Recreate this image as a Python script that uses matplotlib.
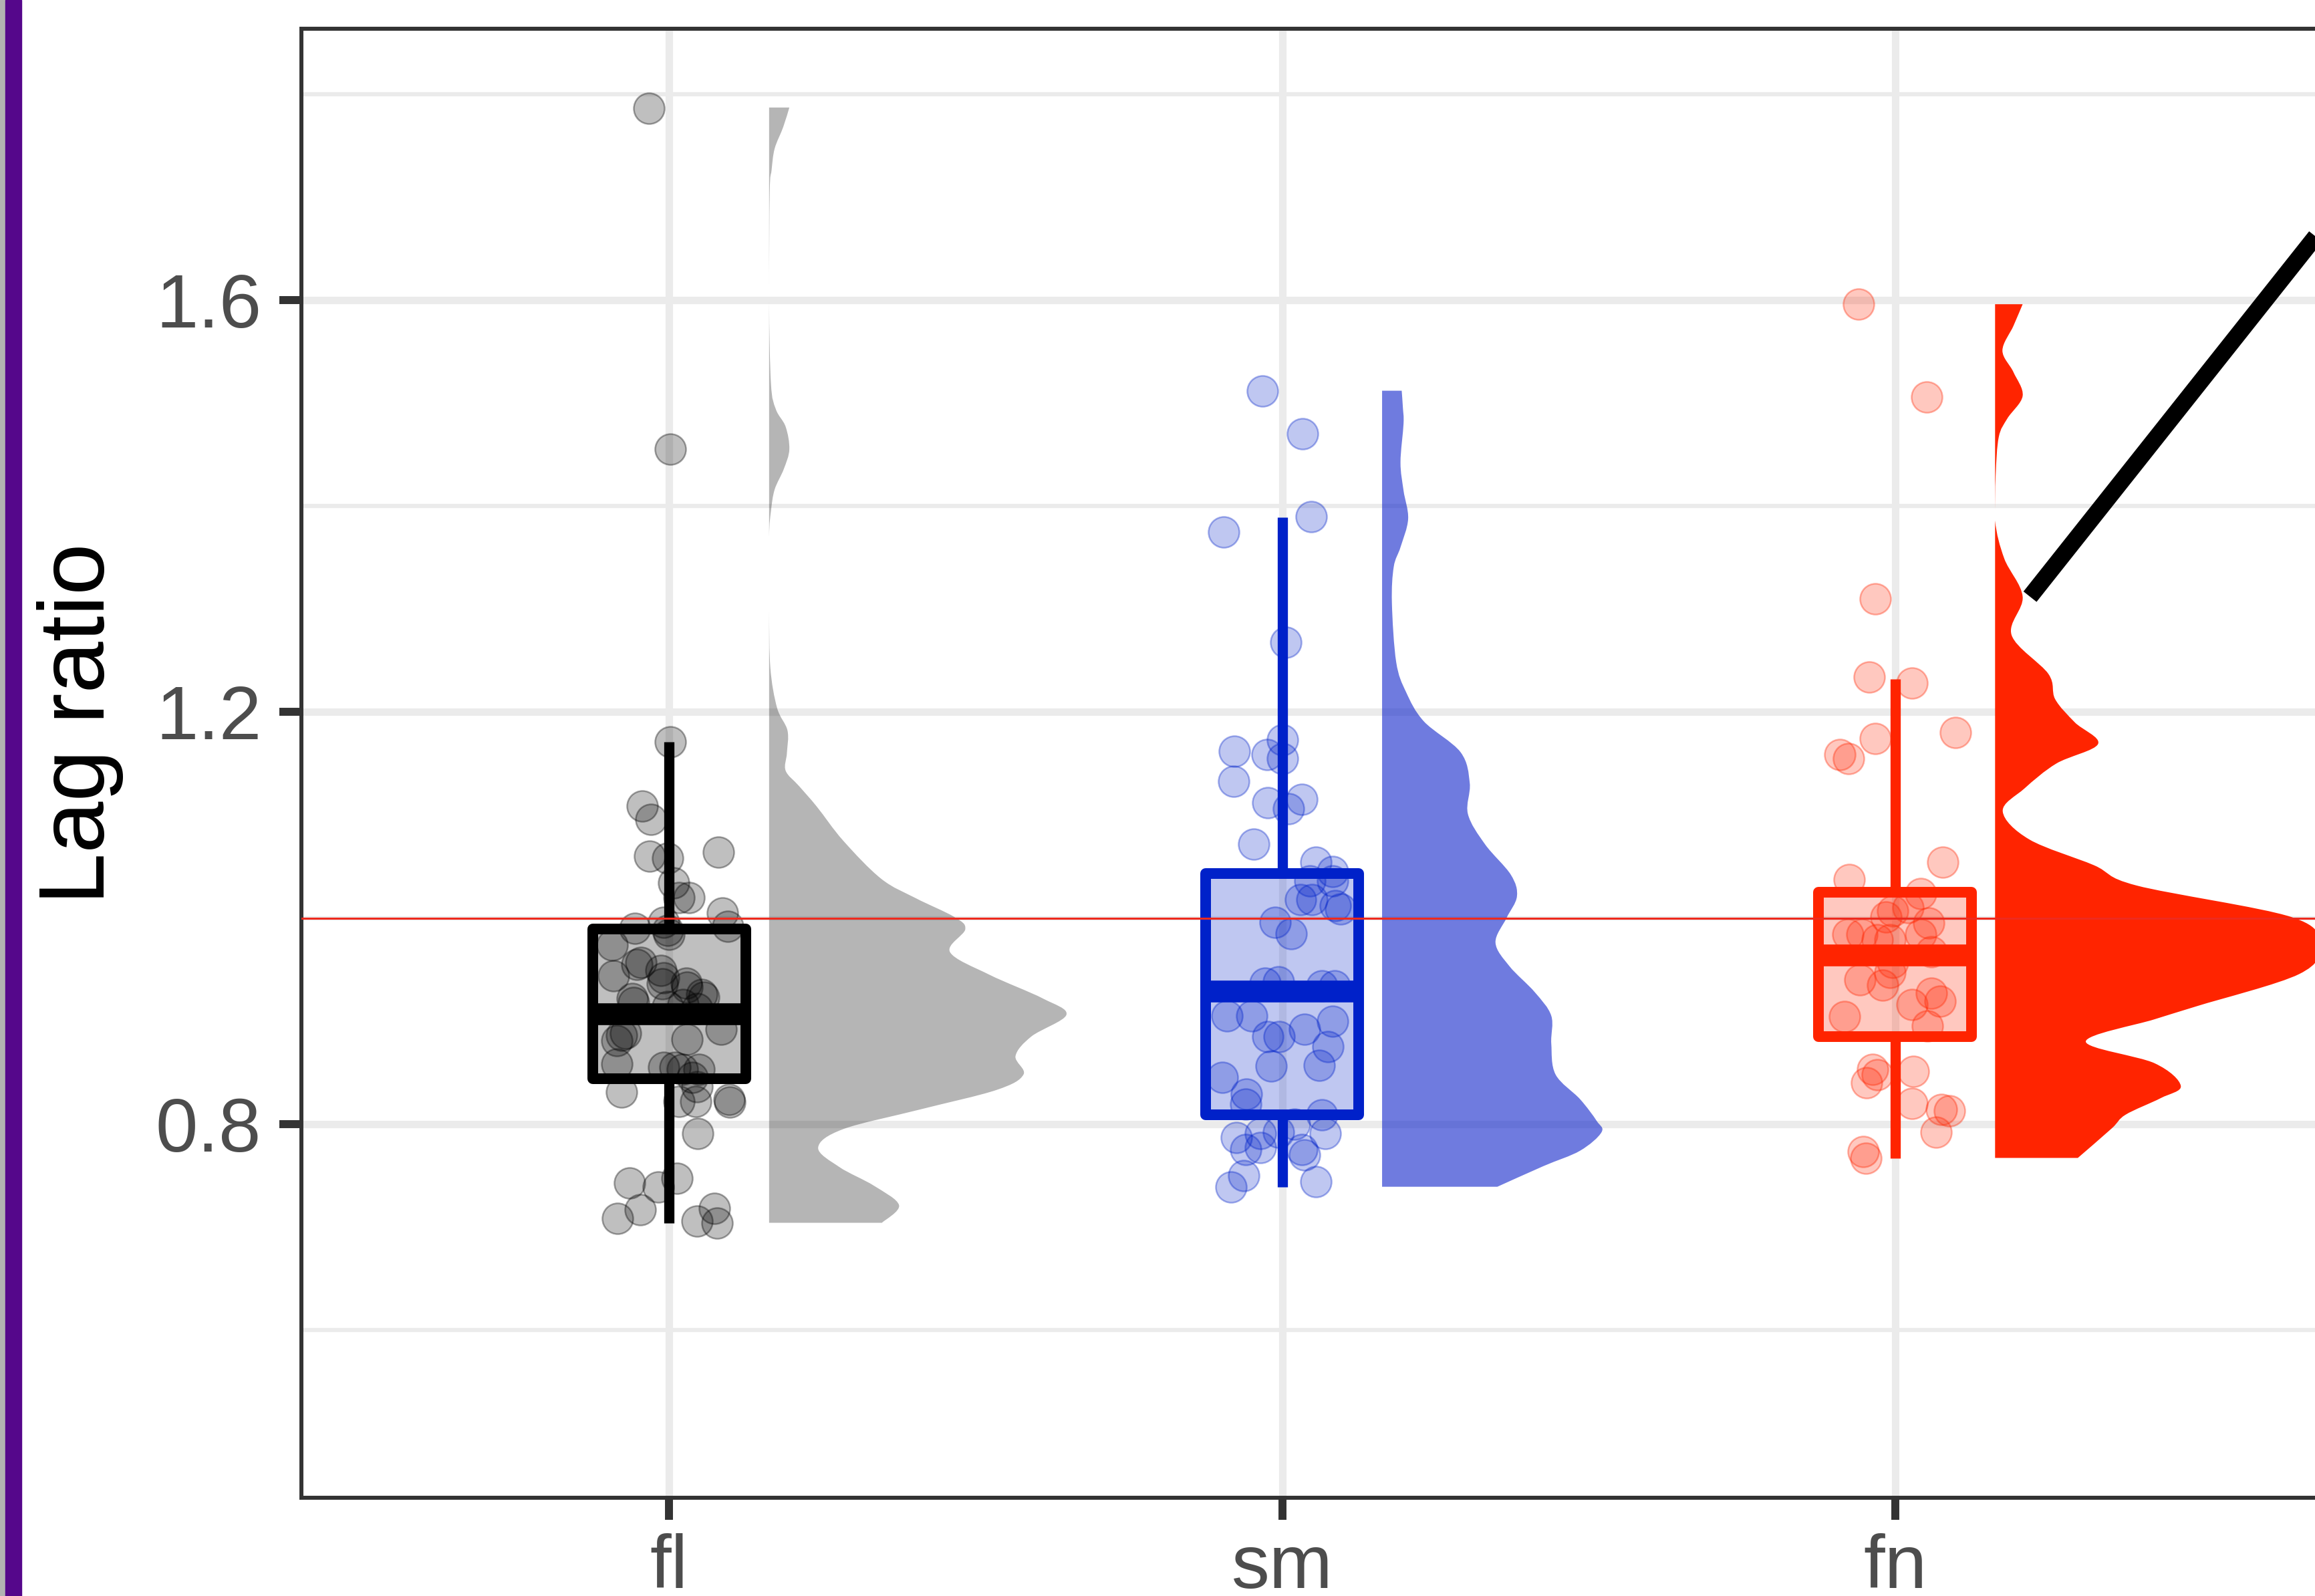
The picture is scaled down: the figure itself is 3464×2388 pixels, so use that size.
import matplotlib.pyplot as plt
import matplotlib.patches as mpatches
from matplotlib.path import Path
from matplotlib.colors import to_rgba
import numpy as np

plt.rcParams['font.family'] = ['Liberation Sans', 'DejaVu Sans']

# ---- data ----
categories = ['fl', 'sm', 'fn']

fl_jitter = [-0.033, 0.002, 0.002, -0.044, -0.030, -0.032, -0.003, 0.080, 0.007, 0.016,
             0.032, 0.087, 0.096, -0.056, -0.009, -0.002, 0.000, -0.093, -0.046, -0.053,
             -0.091, -0.013, -0.011, 0.029, 0.056, -0.058, -0.009, 0.023, 0.045, -0.002,
             -0.071, -0.085, -0.078, 0.029, 0.085, -0.085, -0.009, 0.009, 0.021, 0.049,
             0.038, 0.045, -0.078, 0.016, 0.043, 0.098, 0.099, 0.047, -0.065, -0.018,
             0.013, -0.084, -0.047, 0.045, 0.074, 0.078, -0.060, 0.053, 0.028]
fl_values = [1.786, 1.455, 1.171, 1.109, 1.096, 1.060, 1.058, 1.064, 1.034, 1.020,
             1.020, 1.005, 0.992, 0.990, 0.996, 0.988, 0.984, 0.974, 0.957, 0.955,
             0.944, 0.949, 0.936, 0.933, 0.923, 0.918, 0.942, 0.916, 0.912, 0.914,
             0.888, 0.881, 0.886, 0.882, 0.892, 0.858, 0.855, 0.855, 0.853, 0.853,
             0.845, 0.836, 0.831, 0.822, 0.822, 0.824, 0.821, 0.791, 0.743, 0.739,
             0.747, 0.708, 0.717, 0.706, 0.718, 0.704, 0.922, 0.926, 0.937]

sm_jitter = [-0.032, 0.033, -0.095, 0.047, 0.006, -0.078, -0.025, 0.000, 0.000, -0.079,
             -0.023, 0.010, 0.032, -0.046, 0.055, 0.082, 0.082, 0.045, 0.030, 0.048,
             0.087, 0.095, -0.011, 0.015, -0.028, -0.006, 0.065, 0.085, -0.090, -0.050,
             0.082, 0.037, -0.005, -0.023, 0.075, -0.018, 0.060, -0.098, -0.058, -0.060,
             0.065, 0.020, -0.075, -0.036, -0.006, 0.070, -0.060, -0.035, 0.032, 0.037,
             -0.063, -0.083, 0.055]
sm_values = [1.512, 1.470, 1.375, 1.390, 1.268, 1.162, 1.159, 1.173, 1.155, 1.133,
             1.112, 1.106, 1.115, 1.072, 1.054, 1.045, 1.036, 1.036, 1.018, 1.018,
             1.012, 1.009, 0.996, 0.985, 0.937, 0.938, 0.934, 0.934, 0.905, 0.905,
             0.900, 0.892, 0.885, 0.885, 0.875, 0.856, 0.857, 0.845, 0.829, 0.819,
             0.809, 0.800, 0.787, 0.791, 0.792, 0.791, 0.775, 0.777, 0.775, 0.770,
             0.750, 0.739, 0.744]

fn_jitter = [-0.060, 0.051, -0.033, -0.042, 0.028, 0.098, -0.033, -0.090, -0.076, 0.078,
             -0.075, 0.042, -0.004, 0.021, 0.055, -0.015, -0.077, -0.054, -0.029, -0.008,
             0.042, 0.059, -0.004, -0.058, -0.021, -0.008, 0.059, 0.027, 0.073, -0.083,
             0.053, -0.037, -0.029, -0.047, 0.030, 0.027, 0.075, 0.089, 0.067, -0.052,
             -0.048]
fn_values = [1.596, 1.506, 1.310, 1.234, 1.228, 1.180, 1.174, 1.159, 1.155, 1.054,
             1.037, 1.024, 1.007, 1.010, 0.995, 1.001, 0.984, 0.984, 0.979, 0.979,
             0.984, 0.967, 0.957, 0.940, 0.935, 0.947, 0.927, 0.916, 0.919, 0.904,
             0.895, 0.853, 0.848, 0.840, 0.851, 0.820, 0.814, 0.813, 0.792, 0.773,
             0.767]

# box summaries (whisker low, q1, median, q3, whisker high)
fl_box = [0.704, 0.844, 0.907, 0.989, 1.171]
sm_box = [0.739, 0.809, 0.929, 1.043, 1.389]
fn_box = [0.767, 0.885, 0.964, 1.025, 1.232]

# half-violin density profiles (value, width)
fl_dens_y = [1.787, 1.768, 1.747, 1.726, 1.705, 1.60, 1.519, 1.494, 1.477, 1.455, 1.436,
             1.416, 1.395, 1.37, 1.30, 1.243, 1.204, 1.182, 1.160, 1.143, 1.128, 1.108,
             1.075, 1.038, 1.019, 1.001, 0.989, 0.967, 0.945, 0.922, 0.906, 0.885, 0.866,
             0.848, 0.833, 0.814, 0.795, 0.777, 0.758, 0.740, 0.721, 0.704]
fl_dens_w = [0.033, 0.023, 0.009, 0.004, 0.001, 0.000, 0.003, 0.011, 0.027, 0.033, 0.024,
             0.009, 0.003, 0.000, 0.000, 0.002, 0.013, 0.030, 0.029, 0.027, 0.049, 0.078,
             0.121, 0.183, 0.240, 0.302, 0.320, 0.295, 0.359, 0.446, 0.485, 0.428, 0.402,
             0.415, 0.371, 0.246, 0.121, 0.080, 0.115, 0.171, 0.212, 0.184]

sm_dens_y = [1.512, 1.495, 1.480, 1.4425, 1.415, 1.3875, 1.36, 1.341, 1.306, 1.2485,
             1.2195, 1.191, 1.161, 1.131, 1.101, 1.0715, 1.042, 1.021, 1.000, 0.976,
             0.953, 0.928, 0.905, 0.878, 0.848, 0.824, 0.803, 0.792, 0.774, 0.759, 0.739]
sm_dens_w = [0.032, 0.034, 0.035, 0.030, 0.035, 0.0425, 0.030, 0.019, 0.016, 0.023,
             0.039, 0.068, 0.128, 0.143, 0.140, 0.168, 0.210, 0.220, 0.203, 0.185,
             0.208, 0.249, 0.276, 0.276, 0.283, 0.323, 0.350, 0.358, 0.323, 0.263, 0.188]

fn_dens_y = [1.596, 1.575, 1.551, 1.530, 1.507, 1.485, 1.467, 1.430, 1.386, 1.349, 1.312,
             1.2746, 1.237, 1.2125, 1.190, 1.169, 1.150, 1.1258, 1.1035, 1.0762, 1.0513,
             1.0315, 1.001, 0.9735, 0.9455, 0.9145, 0.9016, 0.880, 0.859, 0.837, 0.825,
             0.809, 0.7955, 0.767]
fn_dens_w = [0.045, 0.030, 0.012, 0.030, 0.045, 0.020, 0.006, 0.001, 0.000, 0.015, 0.045,
             0.027, 0.087, 0.098, 0.130, 0.168, 0.100, 0.048, 0.0125, 0.056, 0.161,
             0.231, 0.483, 0.530, 0.496, 0.330, 0.260, 0.148, 0.260, 0.303, 0.270,
             0.213, 0.190, 0.135]

reference_level = 1.0

# ---- styling ----
line_col = ['#000000', '#0021c9', '#ff2400']
violin_col = ['#000000', '#0a1fc9', '#ff2400']
violin_alpha = [0.29, 0.59, 1.0]
violin_gap = 0.163


def half_violin_path(base, ys, ws):
    # outline drawn as a smooth curve through the read points (Catmull-Rom -> Bezier)
    pts = np.column_stack([base + np.asarray(ws), np.asarray(ys)])
    verts = [(base, ys[0]), tuple(pts[0])]
    codes = [Path.MOVETO, Path.LINETO]
    n = len(pts)
    for k in range(n - 1):
        p0 = pts[max(k - 1, 0)]
        p1 = pts[k]
        p2 = pts[k + 1]
        p3 = pts[min(k + 2, n - 1)]
        c1 = p1 + (p2 - p0) / 6.0
        c2 = p2 - (p3 - p1) / 6.0
        c1[0] = max(c1[0], base)
        c2[0] = max(c2[0], base)
        verts += [tuple(c1), tuple(c2), tuple(p2)]
        codes += [Path.CURVE4] * 3
    verts += [(base, ys[-1]), (base, ys[0])]
    codes += [Path.LINETO, Path.CLOSEPOLY]
    return Path(verts, codes)


fig = plt.figure(figsize=(34.64, 23.88), dpi=100)
fig.patches.append(mpatches.Rectangle((0, 0), 8 / 3464, 1, transform=fig.transFigure,
                                      color='#b2b2b2', zorder=0))
fig.patches.append(mpatches.Rectangle((8 / 3464, 0), 24 / 3464, 1, transform=fig.transFigure,
                                      color='#55078b', zorder=0))

ax = fig.add_axes([451 / 3464, 147 / 2388, 3302 / 3464, 2198 / 2388])
ax.set_xlim(0.4, 4.0)
ax.set_ylim(0.437, 1.8635)

groups = [
    (fl_jitter, fl_values, fl_box, fl_dens_y, fl_dens_w),
    (sm_jitter, sm_values, sm_box, sm_dens_y, sm_dens_w),
    (fn_jitter, fn_values, fn_box, fn_dens_y, fn_dens_w),
]

for i, (jit, vals, box, dy, dw) in enumerate(groups):
    pos = i + 1
    col = line_col[i]

    # half violin
    vpath = half_violin_path(pos + violin_gap, dy, dw)
    ax.add_patch(mpatches.PathPatch(vpath, facecolor=violin_col[i], alpha=violin_alpha[i],
                                    lw=0, zorder=2))

    # jittered points
    ax.scatter(pos + np.array(jit), vals, s=1100, facecolor=to_rgba(col, 0.25),
               edgecolor=to_rgba(col, 0.35), linewidths=1.8, zorder=3)

    # box
    stats = [dict(whislo=box[0], q1=box[1], med=box[2], q3=box[3], whishi=box[4])]
    ax.bxp(stats, positions=[pos], widths=0.25, patch_artist=True, showcaps=False,
           showfliers=False, manage_ticks=False, zorder=4,
           boxprops=dict(facecolor=to_rgba(col, 0.25), edgecolor=col, linewidth=11.5,
                         joinstyle='round'),
           whiskerprops=dict(color=col, linewidth=11, solid_capstyle='butt'),
           medianprops=dict(color=col, linewidth=23.5, solid_capstyle='butt'))

ax.axhline(reference_level, color='#ee2a1e', lw=2.2, zorder=5)

# pointer line coming in from the neighbouring panel
ax.plot([3.22, 3.95], [1.312, 1.312 + 0.7505 * 0.73], color='black', lw=18,
        solid_capstyle='butt', clip_on=False, zorder=6)

# axes styling
ax.set_xticks([1, 2, 3])
ax.set_xticklabels(categories)
ax.set_yticks([0.8, 1.2, 1.6])
ax.set_yticklabels(['0.8', '1.2', '1.6'])
ax.set_yticks([0.6, 1.0, 1.4, 1.8], minor=True)
ax.set_axisbelow(True)
ax.grid(which='major', color='#ebebeb', lw=8)
ax.grid(which='minor', axis='y', color='#ebebeb', lw=4.6)
ax.tick_params(axis='both', which='major', length=24, width=8.6, color='#333333',
               labelsize=82, labelcolor='#4d4d4d')
ax.tick_params(axis='y', which='minor', length=0)
ax.tick_params(axis='y', pad=19)
ax.tick_params(axis='x', pad=14)
for s in ax.spines.values():
    s.set_color('#333333')
    s.set_linewidth(4.3)

fig.text(120 / 3464, 1 - 1082.5 / 2388, 'Lag ratio', rotation=90, ha='center',
         va='center', fontsize=100, color='black')

fig.savefig('out.png', dpi=100)
